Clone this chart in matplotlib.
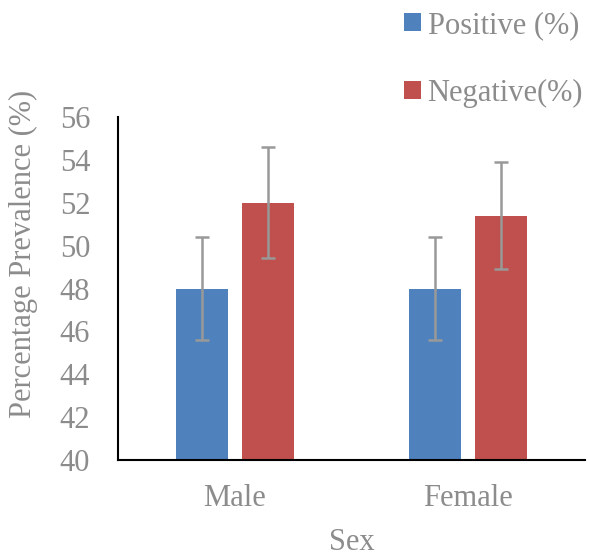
import matplotlib.pyplot as plt
import numpy as np

# data
categories = ['Male', 'Female']
positive = [48.0, 48.0]
negative = [52.0, 51.4]
positive_err = [2.4, 2.4]
negative_err = [2.6, 2.5]
yticks = [40, 42, 44, 46, 48, 50, 52, 54, 56]

plt.rcParams['font.family'] = ['Liberation Serif', 'DejaVu Serif']
grey = '#8c8c8c'

fig = plt.figure(figsize=(5.9, 5.57), dpi=100)
ax = fig.add_axes([118 / 590, 1 - 460 / 557, 467 / 590, 343 / 557])

x = np.arange(len(categories))
w = 0.223
off = 0.141
ax.bar(x - off, positive, w, color='#4f81bd', label='Positive (%)',
       yerr=positive_err, ecolor='#999999',
       error_kw=dict(elinewidth=1.8, capsize=5, capthick=1.8))
ax.bar(x + off, negative, w, color='#c0504d', label='Negative(%)',
       yerr=negative_err, ecolor='#999999',
       error_kw=dict(elinewidth=1.8, capsize=5, capthick=1.8))

ax.set_xlim(-0.5, 1.5)
ax.set_ylim(40, 56)
ax.set_yticks(yticks)
ax.set_xticks(x)
ax.set_xticklabels(categories)
ax.tick_params(axis='both', length=0, labelsize=22, labelcolor=grey)
ax.tick_params(axis='x', pad=17)
ax.tick_params(axis='y', pad=20)

for s in ['top', 'right']:
    ax.spines[s].set_visible(False)
for s in ['left', 'bottom']:
    ax.spines[s].set_color('black')
    ax.spines[s].set_linewidth(1.5)

ax.set_xlabel('Sex', fontsize=22, color=grey, labelpad=11)
ax.set_ylabel('Percentage Prevalence (%)', fontsize=22, color=grey)
ax.yaxis.set_label_coords(-80 / 467, 0.6)

leg = fig.legend(loc='upper left', bbox_to_anchor=(401 / 590, 1 - 8 / 557), frameon=False,
                 fontsize=22, labelcolor=grey, handlelength=0.55, handleheight=0.55,
                 handletextpad=0.22, labelspacing=1.27, borderpad=0.1, borderaxespad=0)

fig.savefig('out.png', dpi=100)
